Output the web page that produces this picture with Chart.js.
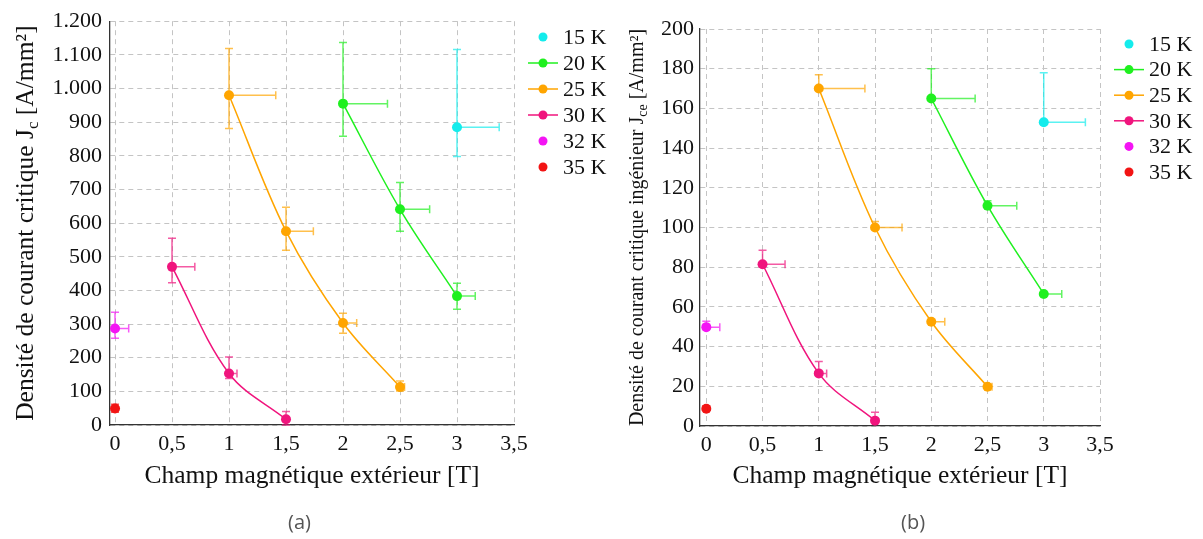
<!DOCTYPE html>
<html lang="fr">
<head>
<meta charset="utf-8">
<title>Densité de courant critique</title>
<script src="https://cdn.jsdelivr.net/npm/chart.js@4.4.1/dist/chart.umd.min.js"></script>
<style>
  body { margin: 0; background: #fff; }
  #page { position: relative; width: 1203px; height: 539px; }
  canvas { position: absolute; top: 0; }
  #chartA { left: 0; }
  #chartB { left: 615px; }
  .sub-label { position: absolute; top: 510px; line-height: 24px; font-family: "Open Sans", sans-serif; font-size: 20px; color: #555; }
</style>
</head>
<body>
<div id="page">
  <canvas id="chartA" width="615" height="539"></canvas>
  <canvas id="chartB" width="588" height="539"></canvas>
  <div class="sub-label" style="left:288px">(a)</div>
  <div class="sub-label" style="left:901px">(b)</div>
</div>
<script>
// températures (légende)
const temps = ["15 K", "20 K", "25 K", "30 K", "32 K", "35 K"];

// graduations de l'axe x [T]
const xTicks = [0, 0.5, 1, 1.5, 2, 2.5, 3, 3.5];

// champ magnétique extérieur [T] pour chaque température
const b15 = [3];
const b20 = [2, 2.5, 3];
const b25 = [1, 1.5, 2, 2.5];
const b30 = [0.5, 1, 1.5];
const b32 = [0];
const b35 = [0];

// incertitude sur le champ (vers la droite seulement)
const bErr15 = [0.37];
const bErr20 = [0.39, 0.26, 0.16];
const bErr25 = [0.41, 0.24, 0.12, 0.04];
const bErr30 = [0.2, 0.07, 0];
const bErr32 = [0.12];
const bErr35 = [0.02];

// (a) Jc [A/mm²]
const jc15 = [885];
const jc20 = [955, 641, 383];
const jc25 = [980, 576, 303, 113];
const jc30 = [470, 153, 17];
const jc32 = [287];
const jc35 = [49];
// barres d'erreur haut / bas
const jc15Up = [231], jc15Dn = [87];
const jc20Up = [182, 80, 38], jc20Dn = [97, 65, 39];
const jc25Up = [139, 71, 29, 18], jc25Dn = [99, 57, 30, 12];
const jc30Up = [85, 49, 23], jc30Dn = [47, 15, 17];
const jc32Up = [48], jc32Dn = [29];
const jc35Up = [13], jc35Dn = [11];

// (b) Jce [A/mm²]
const jce15 = [153];
const jce20 = [165, 111, 66.5];
const jce25 = [170, 100, 52.5, 19.8];
const jce30 = [81.5, 26.5, 2.7];
const jce32 = [49.8];
const jce35 = [8.7];
// barres d'erreur (haut seulement)
const jce15Up = [25];
const jce20Up = [15, 2.5, 0];
const jce25Up = [7, 3, 0, 0];
const jce30Up = [7, 6, 4.2];
const jce32Up = [3];
const jce35Up = [1.5];

// styles
const colors = ["#14ecec", "#1ff01f", "#ffa500", "#f0147d", "#f414f4", "#f21414"];
const errColors = ["rgba(20,236,236,0.7)", "rgba(31,240,31,0.7)", "rgba(255,165,0,0.7)",
  "rgba(240,20,125,0.7)", "rgba(244,20,244,0.7)", "rgba(242,20,20,0.7)"];
const withLine = [false, true, true, true, false, false];

const fields = [b15, b20, b25, b30, b32, b35];
const fieldErr = [bErr15, bErr20, bErr25, bErr30, bErr32, bErr35];

const SERIF = "'Liberation Serif', 'DejaVu Serif', serif";

// barres d'erreur dessinées avec les échelles du graphique
const errorBars = {
  id: "errorBars",
  beforeDatasetsDraw(chart) {
    const ctx = chart.ctx;
    const xs = chart.scales.x;
    const ys = chart.scales.y;
    const cap = 4;
    chart.data.datasets.forEach((ds) => {
      ctx.save();
      ctx.strokeStyle = ds.errColor;
      ctx.lineWidth = 1.5;
      ds.data.forEach((p, i) => {
        const px = xs.getPixelForValue(p.x);
        const py = ys.getPixelForValue(p.y);
        const up = ds.errUp[i];
        const dn = ds.errDn ? ds.errDn[i] : 0;
        const ex = ds.errX[i];
        ctx.beginPath();
        if (up > 0) {
          const t = ys.getPixelForValue(p.y + up);
          ctx.moveTo(px, py); ctx.lineTo(px, t);
          ctx.moveTo(px - cap, t); ctx.lineTo(px + cap, t);
        }
        if (dn > 0) {
          const b = ys.getPixelForValue(p.y - dn);
          ctx.moveTo(px, py); ctx.lineTo(px, b);
          ctx.moveTo(px - cap, b); ctx.lineTo(px + cap, b);
        }
        if (ex > 0) {
          const r = xs.getPixelForValue(p.x + ex);
          ctx.moveTo(px, py); ctx.lineTo(r, py);
          ctx.moveTo(r, py - cap); ctx.lineTo(r, py + cap);
        }
        ctx.stroke();
      });
      ctx.restore();
    });
  },
};

// légende à droite : trait + point, ou point seul
const sideLegend = {
  id: "sideLegend",
  afterDraw(chart, args, opts) {
    const ctx = chart.ctx;
    ctx.save();
    ctx.font = "22px " + SERIF;
    ctx.textBaseline = "middle";
    chart.data.datasets.forEach((ds, i) => {
      const y = opts.y + i * opts.step;
      if (ds.showLine) {
        ctx.strokeStyle = ds.borderColor;
        ctx.lineWidth = 1.5;
        ctx.beginPath();
        ctx.moveTo(opts.x, y); ctx.lineTo(opts.x + 30, y);
        ctx.stroke();
      }
      ctx.fillStyle = ds.backgroundColor;
      ctx.beginPath();
      ctx.arc(opts.x + 15, y, 4.5, 0, Math.PI * 2);
      ctx.fill();
      ctx.fillStyle = "#111";
      ctx.fillText(ds.label, opts.x + 35, y + 1);
    });
    ctx.restore();
  },
};

// titre de l'axe y avec indice (J_c, J_ce)
const yTitle = {
  id: "yTitle",
  afterDraw(chart, args, opts) {
    const ctx = chart.ctx;
    const area = chart.chartArea;
    const size = opts.size;
    const small = Math.round(size * 0.68);
    ctx.save();
    ctx.translate(opts.x, (area.top + area.bottom) / 2);
    ctx.rotate(-Math.PI / 2);
    ctx.fillStyle = "#111";
    ctx.textBaseline = "alphabetic";
    let total = 0;
    opts.parts.forEach(([txt, sub]) => {
      ctx.font = (sub ? small : size) + "px " + SERIF;
      total += ctx.measureText(txt).width;
    });
    let x = -total / 2;
    const base = size * 0.35;
    opts.parts.forEach(([txt, sub]) => {
      ctx.font = (sub ? small : size) + "px " + SERIF;
      ctx.fillText(txt, x, sub ? base + size * 0.2 : base);
      x += ctx.measureText(txt).width;
    });
    ctx.restore();
  },
};

function buildDatasets(values, ups, dns) {
  return temps.map((label, k) => ({
    label: label,
    data: fields[k].map((b, i) => ({ x: b, y: values[k][i] })),
    showLine: withLine[k],
    tension: 0.35,
    borderColor: colors[k],
    backgroundColor: colors[k],
    borderWidth: 1.5,
    pointRadius: 5,
    pointBorderWidth: 0,
    errColor: errColors[k],
    errUp: ups[k],
    errDn: dns ? dns[k] : null,
    errX: fieldErr[k],
  }));
}

function fmtX(v) {
  return String(v).replace(".", ",");
}

function fmtY(v) {
  if (v >= 1000) return Math.floor(v / 1000) + "." + String(v % 1000).padStart(3, "0");
  return String(v);
}

function makeChart(id, datasets, cfg) {
  const tickFont = { family: SERIF, size: 22 };
  return new Chart(document.getElementById(id), {
    type: "scatter",
    data: { datasets: datasets },
    options: {
      responsive: false,
      animation: false,
      events: [],
      layout: { padding: cfg.padding },
      plugins: {
        legend: { display: false },
        tooltip: { enabled: false },
        sideLegend: cfg.legend,
        yTitle: cfg.yTitle,
      },
      scales: {
        x: {
          type: "linear",
          min: cfg.xMin,
          max: 3.5,
          ticks: { padding: 6, color: "#111", font: tickFont, callback: fmtX },
          afterBuildTicks: (s) => { s.ticks = xTicks.map((v) => ({ value: v })); },
          afterFit: (s) => { s.height = cfg.xHeight; },
          grid: { color: "#c4c4c4", lineWidth: 1, drawTicks: false },
          border: { color: "#333", width: 1.3, dash: [5, 4] },
          title: {
            display: true,
            text: "Champ magnétique extérieur [T]",
            color: "#111",
            font: { family: SERIF, size: 25.5 },
            padding: 0,
          },
        },
        y: {
          min: 0,
          max: cfg.yMax,
          ticks: { stepSize: cfg.yStep, padding: cfg.yPad, color: "#111", font: tickFont, callback: fmtY },
          afterFit: (s) => { s.width = cfg.yWidth; },
          grid: { color: "#c4c4c4", lineWidth: 1, drawTicks: false },
          border: { color: "#333", width: 1.3, dash: [5, 4] },
        },
      },
    },
    plugins: [errorBars, sideLegend, yTitle],
  });
}

// (a) densité de courant critique
makeChart("chartA",
  buildDatasets([jc15, jc20, jc25, jc30, jc32, jc35],
    [jc15Up, jc20Up, jc25Up, jc30Up, jc32Up, jc35Up],
    [jc15Dn, jc20Dn, jc25Dn, jc30Dn, jc32Dn, jc35Dn]),
  {
    padding: { left: 0, right: 101, top: 21, bottom: 47 },
    xMin: -0.044, xHeight: 67,
    yMax: 1200, yStep: 100, yWidth: 110, yPad: 8,
    legend: { x: 528, y: 37, step: 26 },
    yTitle: {
      x: 24, size: 25.5,
      parts: [["Densité de courant critique J", false], ["c", true], [" [A/mm²]", false]],
    },
  });

// (b) densité de courant critique ingénieur
makeChart("chartB",
  buildDatasets([jce15, jce20, jce25, jce30, jce32, jce35],
    [jce15Up, jce20Up, jce25Up, jce30Up, jce32Up, jce35Up],
    null),
  {
    padding: { left: 0, right: 103, top: 29, bottom: 47 },
    xMin: -0.056, xHeight: 66,
    yMax: 200, yStep: 20, yWidth: 85, yPad: 6,
    legend: { x: 499, y: 44, step: 25.6 },
    yTitle: {
      x: 21, size: 20,
      parts: [["Densité de courant critique ingénieur J", false], ["ce", true], [" [A/mm²]", false]],
    },
  });
</script>
</body>
</html>
